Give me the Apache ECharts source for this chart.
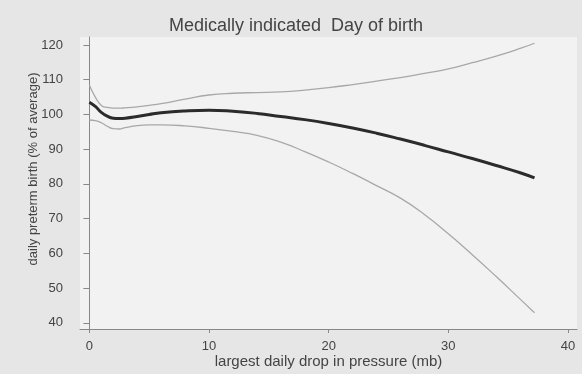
<!DOCTYPE html>
<html><head><meta charset="utf-8">
<script src="https://cdn.jsdelivr.net/npm/echarts@6/dist/echarts.min.js"></script>
<style>html,body{margin:0;padding:0;background:#e6e6e6}#c{width:582px;height:374px}</style>
</head><body><div id="c"></div>
<script>
const titleText = 'Medically indicated  Day of birth';
const xName = 'largest daily drop in pressure (mb)';
const yName = 'daily preterm birth (% of average)';
const xTicks = [0, 10, 20, 30, 40];
const yTicks = [40, 50, 60, 70, 80, 90, 100, 110, 120];
const xVals = [0, 0.5, 1, 1.5, 2, 2.5, 3, 4, 5, 6, 8, 10, 12, 14, 16, 18, 20, 22, 24, 26, 28, 30, 32, 34, 36, 37.2];
const meanVals = [103.5, 102.3, 100.6, 99.5, 98.9, 98.8, 98.9, 99.4, 100.0, 100.5, 101.0, 101.2, 100.9, 100.3, 99.4, 98.5, 97.4, 96.1, 94.6, 92.9, 91.1, 89.2, 87.3, 85.3, 83.2, 81.7];
const upperVals = [108.5, 105.0, 102.6, 102.0, 101.8, 101.8, 101.9, 102.2, 102.6, 103.1, 104.4, 105.6, 106.1, 106.3, 106.5, 107.0, 107.7, 108.6, 109.6, 110.6, 111.8, 113.1, 114.9, 116.8, 119.0, 120.5];
const lowerVals = [98.4, 98.2, 97.6, 96.6, 95.9, 95.8, 96.2, 96.8, 97.0, 97.0, 96.7, 96.0, 95.1, 94.0, 92.0, 89.3, 86.3, 83.0, 79.5, 75.9, 71.2, 65.6, 59.6, 53.3, 46.8, 42.9];

const pair = v => xVals.map((x, i) => [x, v[i]]);
const chart = echarts.init(document.getElementById('c'));
const font = 'Liberation Sans, Arial, sans-serif';
chart.setOption({
  backgroundColor: '#e6e6e6',
  animation: false,
  title: { text: titleText, left: 291, top: 12, textAlign: 'center',
    textStyle: { fontFamily: font, fontSize: 18, fontWeight: 'normal', color: '#444' } },
  grid: { left: 80, right: 5, top: 37, bottom: 45, show: true, backgroundColor: '#f2f2f2', borderWidth: 0 },
  xAxis: { type: 'value', min: -0.78, max: 40.75,
    name: xName, nameLocation: 'middle', nameGap: 25, nameMoveOverlap: false,
    nameTextStyle: { fontFamily: font, fontSize: 15, color: '#444' },
    axisLine: { lineStyle: { color: '#888', width: 1 } },
    axisTick: { customValues: xTicks, length: 4, lineStyle: { color: '#888' } },
    axisLabel: { customValues: xTicks, margin: 11, fontFamily: font, fontSize: 13, color: '#444' },
    splitLine: { show: false } },
  yAxis: { type: 'value', min: 38.2, max: 122.3,
    name: yName, nameLocation: 'middle', nameGap: 40, nameMoveOverlap: false,
    nameTextStyle: { fontFamily: font, fontSize: 13, color: '#444', padding: [0, 0, 0, 28] },
    axisLine: { show: true, lineStyle: { color: '#888', width: 1 } },
    axisTick: { show: true, customValues: yTicks, length: 6, lineStyle: { color: '#888' } },
    axisLabel: { customValues: yTicks, margin: 17, fontFamily: font, fontSize: 13, color: '#444' },
    splitLine: { show: false } },
  series: [
    { type: 'line', data: pair(upperVals), smooth: true, symbol: 'none', lineStyle: { color: '#a8a8a8', width: 1.3 } },
    { type: 'line', data: pair(lowerVals), smooth: true, symbol: 'none', lineStyle: { color: '#a8a8a8', width: 1.3 } },
    { type: 'line', data: pair(meanVals), smooth: true, symbol: 'none', lineStyle: { color: '#2b2b2b', width: 3 } }
  ]
});
</script></body></html>
